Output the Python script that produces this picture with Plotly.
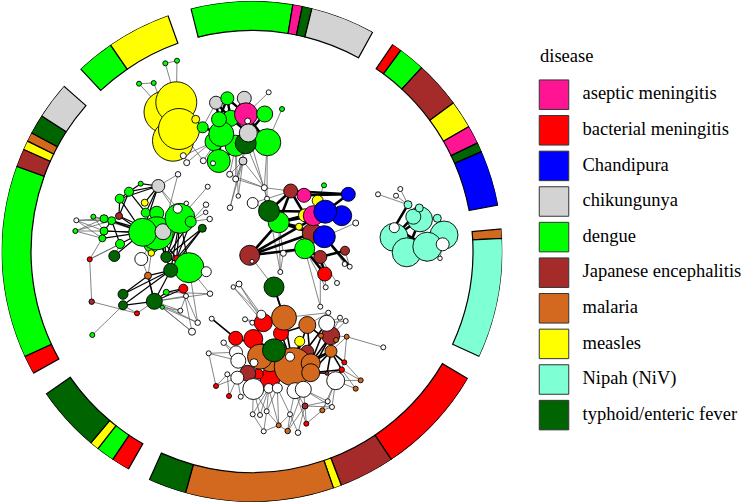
import plotly.graph_objects as go

# ---------- legend ----------
diseases = ["aseptic meningitis", "bacterial meningitis", "Chandipura", "chikungunya", "dengue",
            "Japanese encephalitis", "malaria", "measles", "Nipah (NiV)", "typhoid/enteric fever"]
disease_colors = ["#FF1493", "#FF0000", "#0000FF", "#D3D3D3", "#00FF00",
                  "#A52A2A", "#D2691E", "#FFFF00", "#7FFFD4", "#006400"]
legend_title = "disease"

# ---------- outer ring: sector start / end (degrees clockwise from north) ----------
ring_start = [-14.1, 9.4, 11.6, 13.85,
              34.2, 36.5, 42.7, 53.6, 60.06, 64.3, 66.5,
              84.85, 86.98,
              120.5, 146.2, 159.1, 161.0, 195.4,
              209.6, 213.8, 218.0, 220.1,
              240.9, 245.2, 289.9, 294.1, 296.2, 298.3, 302.8,
              316.8, 325.6]
ring_end = [9.4, 11.6, 13.85, 28.8,
            36.5, 42.7, 53.6, 60.06, 64.3, 66.5, 79.3,
            86.98, 114.8,
            146.2, 159.1, 161.0, 195.4, 204.2,
            213.8, 218.0, 220.1, 235.3,
            245.2, 289.9, 294.1, 296.2, 298.3, 302.8, 311.3,
            325.6, 340.4]
ring_disease = [4, 0, 9, 3,
                1, 4, 5, 7, 0, 9, 2,
                6, 8,
                1, 5, 7, 6, 9,
                1, 4, 7, 9,
                1, 4, 5, 7, 6, 9, 3,
                4, 7]
RING_INNER, RING_OUTER = 221, 250.5

# kind letters map to node colours (W = no disease recorded)
KIND = {"P": "#FF1493", "R": "#FF0000", "U": "#0000FF", "K": "#D3D3D3", "G": "#00FF00",
        "B": "#A52A2A", "O": "#D2691E", "Y": "#FFFF00", "N": "#7FFFD4", "D": "#006400", "W": "#FFFFFF"}

# ---------- cluster A (top: measles / dengue) ----------
a_x = [165, 173, 176.3, 179, 195.7, 165.3, 177, 139, 153.7, 183.3, 186.7, 203.3, 202.7, 216, 227.3, 230.7, 214, 235.7,
       221.3, 219, 244.3, 246, 247.7, 264.7, 267.3, 245.7, 248.3, 218.7, 213, 268.7, 282, 243, 229.7, 235.7, 238.3, 230,
       264.3, 267, 252.7]
a_y = [112, 140.7, 102.3, 129, 119.3, 63.3, 60.7, 83.7, 83, 155.7, 162.7, 160.7, 127.3, 102.7, 98.3, 118.3, 141.7, 145.7,
       134, 119.3, 98.3, 114.3, 121, 114, 142.3, 143.3, 133, 161, 163.3, 92.3, 109, 161, 174.3, 179, 196, 207.7,
       187.7, 198.7, 203]
a_size = [42, 41, 41, 41, 8, 5, 5, 5, 5, 6, 6, 6, 11, 13, 13, 16, 18, 21,
          25, 15, 14, 23, 6, 16, 27, 21, 18, 23, 5, 5, 5, 8, 6, 6, 4.5, 5.5,
          6, 5, 11]
a_kind = "YYYYYGGGGWWWGKGGGGGGKPWGGDKGWWGKWWWWWWW"
a_thin = [(5,6),(5,2),(6,2),(7,8),(7,0),(8,0),(4,9),(10,18),(11,3),(9,16),(12,13),(29,21),(30,24),(31,25),(31,32),(31,33),
          (31,34),(31,35),(31,36),(24,36),(24,37),(33,36),(32,36),(25,36),(17,33),(17,32),(17,34),(25,35),(26,37),(38,37),(11,18),(10,3)]
a_heavy = [(13,19),(14,15),(13,15),(14,21),(14,19),(15,21),(19,18),(18,17),(17,25),(21,23),(21,24),(15,26),(25,24),(23,26),
           (18,25),(16,17),(19,21),(26,24),(27,18),(20,21),(20,15),(27,25),(12,18)]

# ---------- cluster B (left: dengue / typhoid) ----------
b_x = [178, 140.7, 129, 119.7, 144.7, 119, 145.7, 156.7, 151.7, 156.7, 142.7, 163, 180, 177.7, 190.7, 186.3, 206, 205.7, 209.7, 207.7,
       202.3, 151.3, 141.3, 166.3, 176.7, 189, 206.3, 170.7, 148, 183.3, 166.3, 186, 210, 123, 123, 154.3, 162.3, 91.7, 137, 89.7,
       92.3, 114.3, 120, 102.3, 104, 111.7, 104, 93.3, 76.3, 75.3, 180.3, 197.7, 192, 158.3]
b_y = [174.3, 183.7, 191.7, 198.7, 202.7, 216, 212.7, 213.3, 245, 233.3, 232.3, 231.7, 218.3, 208.7, 221.7, 203.3, 204.7, 212.3, 219, 186.7,
       228.3, 253, 259, 257, 258.3, 267.7, 271.7, 270.3, 275.7, 288.7, 292.3, 296, 293.7, 294.3, 305.3, 301.3, 307.3, 301.7, 313.3, 259.3,
       335, 256, 244, 238.3, 231, 220.7, 218.7, 216.7, 220.3, 231, 310.7, 322.7, 331.7, 186]
b_size = [5.5, 5, 9, 9, 7, 7, 9, 14, 15, 33, 28, 16, 30, 9, 11, 4.5, 5.5, 4.5, 5.5, 5,
          8, 6.5, 13, 11, 6, 30, 10, 14, 7, 9, 6, 5, 5.5, 10, 9, 16, 4, 5.5, 5, 5,
          5, 11, 9, 7, 8, 8, 8, 5, 5, 5, 5, 5.5, 7, 13]
b_kind = "WGGGYBGGGGGKGWGWWWWWDYWDRGWDORGWWDDDGBRRGDGGGGGGWGWWWK"
b_thin = [(53,0),(48,45),(48,46),(48,44),(48,43),(49,45),(49,46),(49,44),(49,43),(47,46),(47,44),(47,10),(39,42),(39,43),(39,37),
          (37,38),(38,34),(34,40),(38,35),(36,35),(36,50),(36,51),(29,31),(31,50),(31,51),(25,32),(25,51),(29,52),(26,25),(22,28),(21,28),
          (35,31),(35,50),(35,51),(35,52),(35,32),(30,32),(36,52),(19,12),(15,12),(16,14),(17,14),(18,14),(53,12),(53,13),(21,9),(22,9),
          (41,42),(8,21),(42,39),(0,11)]
b_heavy = [(53,1),(53,2),(53,3),(53,4),(53,6),(53,10),(2,3),(2,6),(3,5),(3,10),(5,10),(5,9),(45,10),(44,10),(43,10),(46,10),(45,9),
           (44,9),(42,10),(41,10),(42,45),(46,45),(44,45),(43,44),(2,5),(1,2),(12,24),(12,27),(12,23),(14,24),(14,23),
           (20,24),(20,23),(20,27),(9,23),(9,24),(9,27),(25,24),(25,27),(25,23),(12,25),(11,23),(35,27),(35,28),(33,27),(34,27),
           (33,28),(34,35),(30,35),(30,29),(35,29),(28,27),(28,35)]

# ---------- cluster C (centre: Chandipura / JE) ----------
c_x = [249.7, 252, 274, 283.3, 280.3, 324, 290.7, 304, 348.3, 317.7, 305, 312.3, 341.7, 313.3, 325.3, 355.7, 278.7, 269, 299, 324.3,
       304.7, 320.3, 345, 344.7, 349.7, 324.7, 337, 325.7, 320.3]
c_y = [255.3, 261.3, 287, 253.3, 272, 185.3, 191, 195.3, 194.3, 200.7, 215.3, 233.3, 215.7, 215.7, 211.7, 223, 222.3, 211, 226.7, 236.7,
       248.7, 257, 250.7, 264, 266.7, 274, 283, 287.3, 306.7]
c_size = [20, 4, 20, 6, 5, 5, 14, 14, 14, 11, 13, 20, 20, 20, 23, 6, 21, 21, 7, 22,
          20, 13, 9, 5, 5, 14, 5, 5, 5]
c_kind = "BWDWWGBPUYYBUPUWGDYUGBBWWRWWW"
c_thin = [(0,2),(21,26),(25,27),(20,28),(16,4),(16,3),(20,3),(17,4),(5,9),(19,23),(19,15),(20,27),(21,28),(3,4),(22,24)]
c_heavy = [(0,16),(0,20),(0,11),(0,14),(16,14),(16,13),(16,6),(16,10),(6,7),(7,8),(6,8),(17,14),(11,20),(8,14),(16,18),(18,11),
           (20,21),(21,22),(21,25),(20,25),(6,17),(19,24),(16,11),(6,10),(9,12)]

# ---------- cluster D (bottom: malaria) ----------
d_x = [239, 233.3, 211.7, 245, 252.3, 328.3, 340, 345.7, 383.3, 281, 263.3, 261.3, 284, 307.3, 330.7, 326.7, 321, 336, 346.7,
       235.7, 253.3, 307.3, 270, 258.3, 247.7, 270, 260, 254, 293.3, 290, 310.7, 310.7, 299.7, 274, 331, 344.3, 341.7, 327, 360.7,
       355.7, 335.7, 236, 238.3, 223.7, 208.7, 227.3, 237.3, 295, 303.3, 253.3, 268.7, 277.3, 216, 229, 240.7, 252.7, 260, 266.7,
       290, 327.7, 332, 305, 322.3, 306.3, 278.7, 287.7, 263.7, 298]
d_y = [284, 287, 318.7, 319.3, 322.7, 312.7, 317.7, 321, 347.3, 333.3, 322.7, 314.7, 317.7, 325, 335.7, 323.3, 335.7, 340, 336.7,
       338.3, 339, 351.7, 378.3, 374, 373.3, 361.7, 356.7, 362.7, 366.7, 356.7, 363.3, 372.7, 341.3, 350.3, 351.3, 362.3, 369.7, 373.3, 380.3,
       388.7, 380.7, 352.3, 360.7, 342.7, 353.3, 374.3, 377.7, 390.7, 389.3, 389, 388.3, 388, 386, 396, 396.7, 414.3, 415, 411.3,
       414.3, 401.3, 407, 406, 410.3, 423.7, 425.3, 431, 431.3, 432.7]
d_size = [6, 4.5, 5, 5, 5, 5, 5, 5, 5, 15, 18, 9, 25, 17, 18, 16, 5, 5, 5,
          14, 19, 13, 20, 10, 16, 20, 25, 8, 38, 9, 19, 18, 10, 23, 12, 5, 5.5, 4, 5,
          5, 18, 13, 15, 5.5, 5, 5, 13, 16, 16, 21, 9.5, 10, 5, 5, 5, 5, 5, 5,
          5, 5, 5, 6, 5, 5, 5, 5.5, 5, 5.5]
d_kind = ("WWWWWWWWW" + "RRWOOBWOOO" + "RRBRRBOOWOWOOYDORRBO" + "OWWWWWWWWWWWWRRWWWW" + "WWWBOROOWW")
d_thin = [(0,1),(0,11),(1,11),(0,10),(1,10),(3,4),(3,10),(4,10),(5,12),(5,13),(5,14),(6,14),(7,14),(6,15),(7,15),(18,8),(18,14),
          (18,34),(18,35),(35,38),(36,38),(36,39),(40,39),(40,38),(43,41),(44,42),(44,41),(44,52),(52,45),(52,46),(53,46),(53,45),(54,49),
          (55,49),(56,49),(57,49),(55,50),(56,50),(57,50),(57,51),(66,55),(66,57),(64,51),(64,50),(64,58),(64,66),(65,64),(65,58),(65,61),
          (65,48),(63,61),(63,62),(63,47),(67,61),(67,58),(59,48),(60,48),(61,59),(61,60),(62,59),(62,60),(61,48),(61,47),(58,47),(58,51),
          (59,40),(60,40),(62,40),(35,40),(64,57),(43,42),(45,46),(54,46)]
d_heavy = [(2,19),(10,12),(10,20),(9,12),(9,28),(9,13),(20,28),(13,28),(13,30),(12,28),(15,28),(15,30),(14,30),(14,31),(34,30),(34,31),
           (34,28),(37,31),(36,31),(19,33),(20,33),(32,28),(26,33),(16,13),(12,33),(9,33),(34,35),(34,36),(34,37),(36,40),(37,40)]

# ---------- cluster E (right: Nipah) ----------
e_x = [426.7, 394, 406.7, 444, 427.3, 420, 413.3, 419.3, 408, 437.3, 394.3, 442.7, 440, 378, 400.3, 396]
e_y = [257, 237.3, 252.3, 235, 246.7, 219.3, 216.7, 208, 204.7, 218.3, 227.7, 244.3, 258.3, 194.3, 189, 195.7]
e_size = [8, 28, 29, 28, 29, 25, 15, 8, 8, 8, 10, 13, 4.5, 5, 5, 5]
e_kind = "ONNNNNNNNNWWWWWW"
e_thin = [(13,8),(14,8),(15,8),(3,12),(4,12)]
e_heavy = [(10,8),(10,4),(1,5),(2,5),(1,6),(10,2),(2,4)]

# cross-cluster links: (cluster, index, cluster, index)
cross_thin = [("A",36,"C",6),("A",37,"C",6),("A",38,"C",17),("A",37,"C",17),("A",36,"C",17)]
cross_heavy = [("C",2,"D",12),("C",2,"D",12)]

clusters = {"A": (a_x, a_y, a_size, a_kind, a_thin, a_heavy),
            "B": (b_x, b_y, b_size, b_kind, b_thin, b_heavy),
            "C": (c_x, c_y, c_size, c_kind, c_thin, c_heavy),
            "D": (d_x, d_y, d_size, d_kind, d_thin, d_heavy),
            "E": (e_x, e_y, e_size, e_kind, e_thin, e_heavy)}
heavy_width = {"A": 2.4, "B": 1.2, "C": 2.6, "D": 1.6, "E": 2.6}

WIDTH, HEIGHT = 744, 503
CX, CY = 252, 251.5
fig = go.Figure()

# ring
ring_theta = [(s + e) / 2 for s, e in zip(ring_start, ring_end)]
ring_width = [e - s for s, e in zip(ring_start, ring_end)]
fig.add_trace(go.Barpolar(
    theta=ring_theta, width=ring_width,
    r=[RING_OUTER - RING_INNER] * len(ring_theta), base=[RING_INNER] * len(ring_theta),
    marker=dict(color=[disease_colors[i] for i in ring_disease], line=dict(color="black", width=1.2)),
    showlegend=False, hoverinfo="skip", subplot="polar"))

def edge_xy(pairs, key):
    xs, ys = [], []
    x, y = clusters[key][0], clusters[key][1]
    for p, q in pairs:
        xs += [x[p], x[q], None]
        ys += [y[p], y[q], None]
    return xs, ys

thin_x, thin_y = [], []
for key, cl in clusters.items():
    xs, ys = edge_xy(cl[4], key)
    thin_x += xs
    thin_y += ys
for k1, i, k2, j in cross_thin:
    thin_x += [clusters[k1][0][i], clusters[k2][0][j], None]
    thin_y += [clusters[k1][1][i], clusters[k2][1][j], None]
fig.add_trace(go.Scatter(x=thin_x, y=thin_y, mode="lines", line=dict(color="#666666", width=0.8),
                         showlegend=False, hoverinfo="skip"))

for key, cl in clusters.items():
    xs, ys = edge_xy(cl[5], key)
    if key == "D":
        for k1, i, k2, j in cross_heavy:
            xs += [clusters[k1][0][i], clusters[k2][0][j], None]
            ys += [clusters[k1][1][i], clusters[k2][1][j], None]
    fig.add_trace(go.Scatter(x=xs, y=ys, mode="lines", line=dict(color="black", width=heavy_width[key]),
                             showlegend=False, hoverinfo="skip"))

for key, cl in clusters.items():
    fig.add_trace(go.Scatter(
        x=cl[0], y=cl[1], mode="markers",
        marker=dict(size=cl[2], color=[KIND[k] for k in cl[3]], line=dict(color="black", width=0.9), opacity=1),
        showlegend=False, hoverinfo="skip"))

# legend drawn on its own index axis
idx = list(range(len(diseases)))
fig.add_trace(go.Scatter(
    x=[0] * len(idx), y=idx, xaxis="x2", yaxis="y2", mode="markers",
    marker=dict(symbol="square", size=29.5, color=disease_colors, line=dict(color="#333333", width=1)),
    showlegend=False, hoverinfo="skip"))
fig.add_trace(go.Scatter(
    x=[28.5] * len(idx), y=idx, xaxis="x2", yaxis="y2", mode="text", text=diseases,
    textposition="middle right", textfont=dict(family="Liberation Serif", size=18.5, color="#000000"),
    showlegend=False, hoverinfo="skip", cliponaxis=False))

fig.add_annotation(text=legend_title, x=538 / WIDTH, y=1 - 56 / HEIGHT, xref="paper", yref="paper",
                   xanchor="left", yanchor="middle", showarrow=False,
                   font=dict(family="Liberation Serif", size=18.5, color="#000000"))

ax = dict(visible=False, fixedrange=True)
fig.update_layout(
    width=WIDTH, height=HEIGHT, margin=dict(l=0, r=0, t=0, b=0),
    paper_bgcolor="white", plot_bgcolor="rgba(0,0,0,0)", showlegend=False,
    xaxis=dict(range=[0, WIDTH], domain=[0, 1], **ax),
    yaxis=dict(range=[HEIGHT, 0], domain=[0, 1], **ax),
    xaxis2=dict(range=[-554, WIDTH - 554], domain=[0, 1], overlaying="x", **ax),
    yaxis2=dict(range=[(HEIGHT - 94.7) / 35.6, -94.7 / 35.6], domain=[0, 1], overlaying="y", **ax),
    polar=dict(
        domain=dict(x=[(CX - RING_OUTER) / WIDTH, (CX + RING_OUTER) / WIDTH],
                    y=[1 - (CY + RING_OUTER) / HEIGHT, 1 - (CY - RING_OUTER) / HEIGHT]),
        bgcolor="rgba(0,0,0,0)",
        radialaxis=dict(visible=False, range=[0, RING_OUTER]),
        angularaxis=dict(visible=False, direction="clockwise", rotation=90),
    ),
)
fig.write_html("out.html", config={"displayModeBar": False},
               post_script="document.body.style.margin='0';")
